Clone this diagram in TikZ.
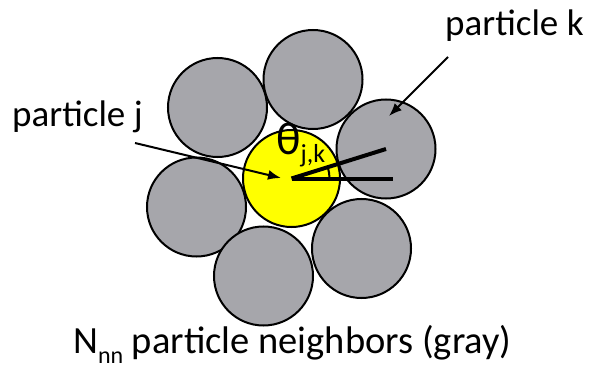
\documentclass[tikz,border=0pt]{standalone}
\usepackage{fontspec}
\setmainfont{Carlito}
\usetikzlibrary{arrows.meta}
\definecolor{grainGray}{RGB}{166,166,171}
\definecolor{grainYellow}{RGB}{255,255,0}
\newcommand{\lowsub}[1]{\raisebox{-0.26em}{\fontsize{24}{24}\selectfont #1}}
\begin{document}
\begin{tikzpicture}[x=1pt,y=-1pt,
		neighbor/.style={circle, draw=black, fill=grainGray, line width=2pt, minimum size=99pt, inner sep=0pt},
		central/.style={circle, draw=black, fill=grainYellow, line width=2pt, minimum size=97pt, inner sep=0pt},
		caption/.style={font=\fontsize{37}{40}\selectfont, inner sep=0pt, anchor=base west},
		pointer/.style={-{Latex[length=13pt,width=10pt]}, line width=2pt},
		bond/.style={line width=4pt}
		]
		\useasboundingbox (0,0) rectangle (590,369);
		% Neighbor particles
		\node[neighbor] (n1) at (217.5,107.5) {};
		\node[neighbor] (n2) at (313,79.5) {};
		\node[neighbor] (pk) at (386,149) {};
		\node[neighbor] (n4) at (196.5,207) {};
		\node[neighbor] (n5) at (263.5,276) {};
		\node[neighbor] (n6) at (361.5,248.5) {};
		% Particle j
		\node[central] (pj) at (291.5,178.5) {};
		% Angle between j and k
		\coordinate (xaxis) at (393,178.5);
		\draw[bond] (pj.center) -- (pk.center);
		\draw[bond] (pj.center) -- (xaxis);
		\draw[line width=2pt] (pj.center) ++(38,0) arc[start angle=0, end angle=-17, radius=38];
		\node[caption, font=\fontsize{46}{48}\selectfont] (theta) at (276,155) {θ\raisebox{-0.17em}{\fontsize{26}{26}\selectfont j,k}};
		% Labels
		\node[caption] (lblj) at (12,127) {particle j};
		\node[caption] (lblk) at (445,36) {particle k};
		\node[caption, font=\fontsize{38.5}{40}\selectfont] (lblnn) at (73,353) {N\lowsub{nn} particle neighbors (gray)};
		\coordinate (jtail) at (135,143);
		\coordinate (jtip) at (281,178);
		\coordinate (ktail) at (448,57);
		\coordinate (ktip) at (389,116);
		\draw[pointer] (jtail) -- (jtip);
		\draw[pointer] (ktail) -- (ktip);
\end{tikzpicture}
\end{document}
